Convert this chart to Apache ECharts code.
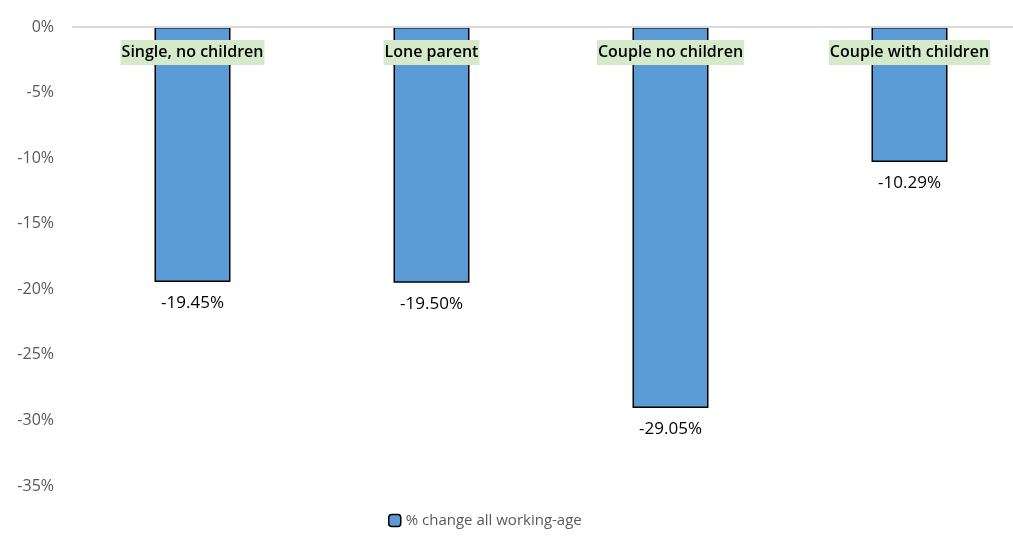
<!DOCTYPE html>
<html><head><meta charset="utf-8">
<script src="https://cdn.jsdelivr.net/npm/echarts@6/dist/echarts.min.js"></script>
<style>html,body{margin:0;padding:0;background:#fff}#c{width:1013px;height:538px}</style>
</head><body><div id="c"></div>
<script>
const categories = ["Single, no children", "Lone parent", "Couple no children", "Couple with children"];
const seriesName = "% change all working-age";
const values = [-19.45, -19.50, -29.05, -10.29];
const yTicks = [0, -5, -10, -15, -20, -25, -30, -35];

const chart = echarts.init(document.getElementById('c'));
const font = "'Open Sans', Lato, sans-serif";
chart.setOption({
  animation: false,
  grid: { left: 73, right: -16, top: 27, bottom: 52, outerBoundsMode: 'none', containLabel: false },
  legend: {
    data: [seriesName], left: 383, bottom: 5, itemWidth: 12, itemHeight: 12,
    itemGap: 4,
    textStyle: { color: '#595959', fontSize: 15, fontFamily: font },
    itemStyle: { borderColor: '#000', borderWidth: 1.5 }
  },
  xAxis: {
    type: 'category', data: categories, position: 'top', z: 10,
    axisLine: { show: true, lineStyle: { color: '#d9d9d9', width: 2 } },
    axisTick: { show: false },
    axisLabel: {
      inside: true, margin: 13, color: '#000', fontSize: 16, fontFamily: font,
      fontWeight: 600,
      backgroundColor: '#d5eaca', padding: [4, 1, 5, 1]
    }
  },
  yAxis: {
    type: 'value', min: -35, max: 0, interval: 5,
    axisLine: { show: false }, axisTick: { show: false },
    splitLine: { show: false },
    axisLabel: { formatter: '{value}%', color: '#595959', fontSize: 16, fontFamily: font, margin: 19 }
  },
  series: [{
    name: seriesName, type: 'bar', data: values, barWidth: 76,
    itemStyle: { color: '#5b9bd5', borderColor: '#000', borderWidth: 1.5 },
    label: {
      show: true, position: 'bottom', distance: 13, color: '#000', fontSize: 17, fontFamily: font,
      formatter: p => p.value.toFixed(2) + '%'
    }
  }]
});
</script></body></html>
